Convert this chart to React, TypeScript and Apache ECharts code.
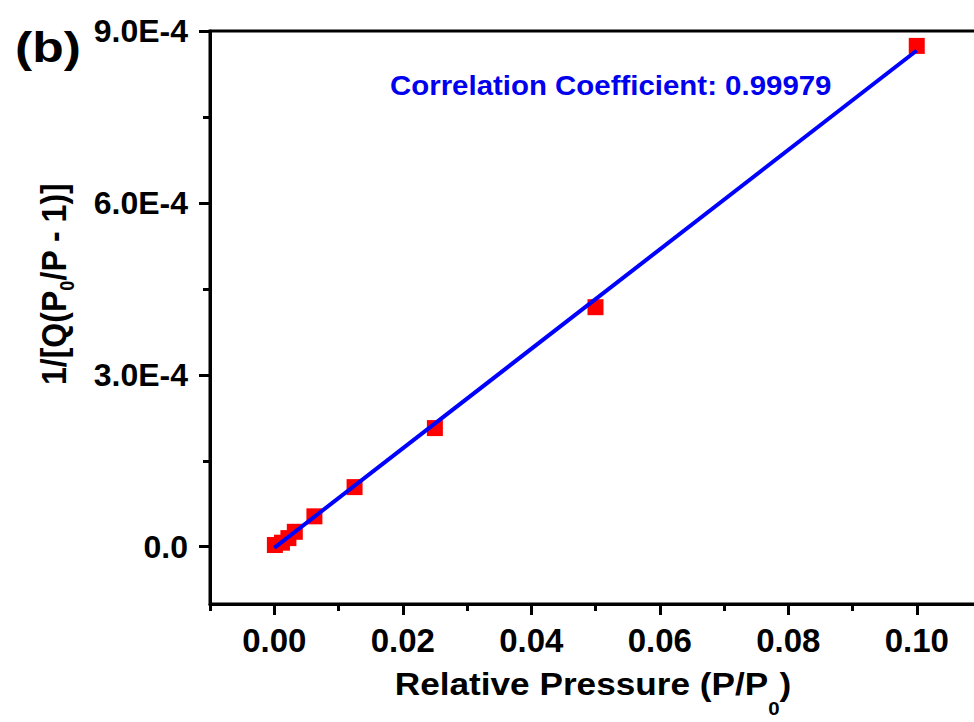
import { useEffect, useRef } from "react";
import * as echarts from "echarts";

// Measured data (relative pressure vs 1/[Q(P0/P - 1)])
const pressure = [0.1, 0.05, 0.025, 0.0125, 0.00625, 0.0032, 0.0022, 0.0012, 0.0001];
const inverseQ = [8.74e-4, 4.18e-4, 2.07e-4, 1.04e-4, 0.53e-4, 0.26e-4, 0.15e-4, 0.07e-4, 0.03e-4];

// Linear fit end points
const fitX = [0, 0.1];
const fitY = [-0.02e-4, 8.66e-4];

// Axis ticks
const xMajorTicks = [0, 0.02, 0.04, 0.06, 0.08, 0.1];
const xMinorTicks = [-0.01, 0.01, 0.03, 0.05, 0.07, 0.09];
const yMajorTicks = [0, 3e-4, 6e-4, 9e-4];
const yMinorTicks = [1.5e-4, 4.5e-4, 7.5e-4];

const xRange = [-0.01, 0.11];
const yRange = [-1e-4, 9e-4];

const FONT = '"Liberation Sans", Arial, Helvetica, sans-serif';
const f = (size: number) => `bold ${size}px ${FONT}`;

export default function App() {
  const ref = useRef<HTMLDivElement>(null);

  useEffect(() => {
    if (!ref.current) return;
    const chart = echarts.init(ref.current, undefined, { renderer: "svg" });

    const lineStyle = { color: "#000", width: 3 };
    const baseX = {
      type: "value",
      min: xRange[0],
      max: xRange[1],
      position: "bottom",
      splitLine: { show: false },
    };
    const baseY = {
      type: "value",
      min: yRange[0],
      max: yRange[1],
      position: "left",
      splitLine: { show: false },
    };

    const option: any = {
      animation: false,
      backgroundColor: "#fff",
      grid: {
        left: 210,
        top: 31,
        width: 771,
        height: 573,
        show: true,
        borderColor: "#000",
        borderWidth: 3,
        backgroundColor: "transparent",
      },
      xAxis: [
        {
          ...baseX,
          axisLine: { show: true, onZero: false, lineStyle },
          axisTick: { show: true, customValues: xMinorTicks, length: 7, lineStyle },
          axisLabel: { show: false },
        },
        {
          ...baseX,
          axisLine: { show: false, onZero: false },
          axisTick: { show: true, customValues: xMajorTicks, length: 11, lineStyle },
          axisLabel: {
            show: true,
            customValues: xMajorTicks,
            formatter: (v: number) => v.toFixed(2),
            margin: 20,
            fontSize: 33,
            fontWeight: "bold",
            fontFamily: FONT,
            color: "#000",
          },
        },
      ],
      yAxis: [
        {
          ...baseY,
          axisLine: { show: true, onZero: false, lineStyle },
          axisTick: { show: true, customValues: yMinorTicks, length: 7, lineStyle },
          axisLabel: { show: false },
        },
        {
          ...baseY,
          axisLine: { show: false, onZero: false },
          axisTick: { show: true, customValues: yMajorTicks, length: 11, lineStyle },
          axisLabel: {
            show: true,
            customValues: yMajorTicks,
            formatter: (v: number) => (v === 0 ? "0.0" : v.toExponential(1).toUpperCase()),
            margin: 22,
            fontSize: 32,
            fontWeight: "bold",
            fontFamily: FONT,
            color: "#000",
          },
        },
      ],
      series: [
        {
          type: "scatter",
          xAxisIndex: 0,
          yAxisIndex: 0,
          data: pressure.map((x, i) => [x, inverseQ[i]]),
          symbol: "rect",
          symbolSize: 16,
          itemStyle: { color: "#ff0000", opacity: 1 },
        },
        {
          type: "line",
          xAxisIndex: 0,
          yAxisIndex: 0,
          data: fitX.map((x, i) => [x, fitY[i]]),
          symbol: "none",
          showSymbol: false,
          lineStyle: { color: "#0000ff", width: 4 },
        },
      ],
      graphic: [
        {
          type: "text",
          x: 15,
          y: 47,
          scaleX: 1.2,
          style: {
            text: "(b)",
            font: f(43),
            fill: "#000",
            align: "left",
            textAlign: "left",
            verticalAlign: "middle",
            textVerticalAlign: "middle",
          },
        },
        {
          type: "text",
          x: 390,
          y: 85,
          scaleX: 1.09,
          style: {
            text: "Correlation Coefficient: 0.99979",
            font: f(27),
            fill: "#0000ee",
            align: "left",
            textAlign: "left",
            verticalAlign: "middle",
            textVerticalAlign: "middle",
          },
        },
        {
          type: "text",
          x: 593,
          y: 669,
          scaleX: 1.135,
          style: {
            text: "{a|Relative Pressure (P/P}{s|0}{a|)}",
            font: f(31),
            fill: "#000",
            align: "center",
            textAlign: "center",
            verticalAlign: "top",
            textVerticalAlign: "top",
            rich: {
              a: { font: f(31), fill: "#000", lineHeight: 36, verticalAlign: "top" },
              s: { font: f(18), fill: "#000", lineHeight: 18, verticalAlign: "top", padding: [31, 0, 0, 0] },
            },
          },
        },
        {
          type: "text",
          x: 37,
          y: 284,
          rotation: Math.PI / 2,
          scaleY: 1.08,
          style: {
            text: "{a|1/[Q(P}{s|0}{a|/P - 1)]}",
            font: f(32),
            fill: "#000",
            align: "center",
            textAlign: "center",
            verticalAlign: "top",
            textVerticalAlign: "top",
            rich: {
              a: { font: f(32), fill: "#000", lineHeight: 36, verticalAlign: "top" },
              s: { font: f(18), fill: "#000", lineHeight: 18, verticalAlign: "top", padding: [19, 0, 0, 0] },
            },
          },
        },
      ],
    };

    chart.setOption(option);
    return () => chart.dispose();
  }, []);

  return (
    <div
      style={{
        position: "fixed",
        left: 0,
        top: 0,
        width: 974,
        height: 722,
        overflow: "hidden",
        background: "#fff",
      }}
    >
      <div ref={ref} style={{ width: 990, height: 722 }} />
    </div>
  );
}
